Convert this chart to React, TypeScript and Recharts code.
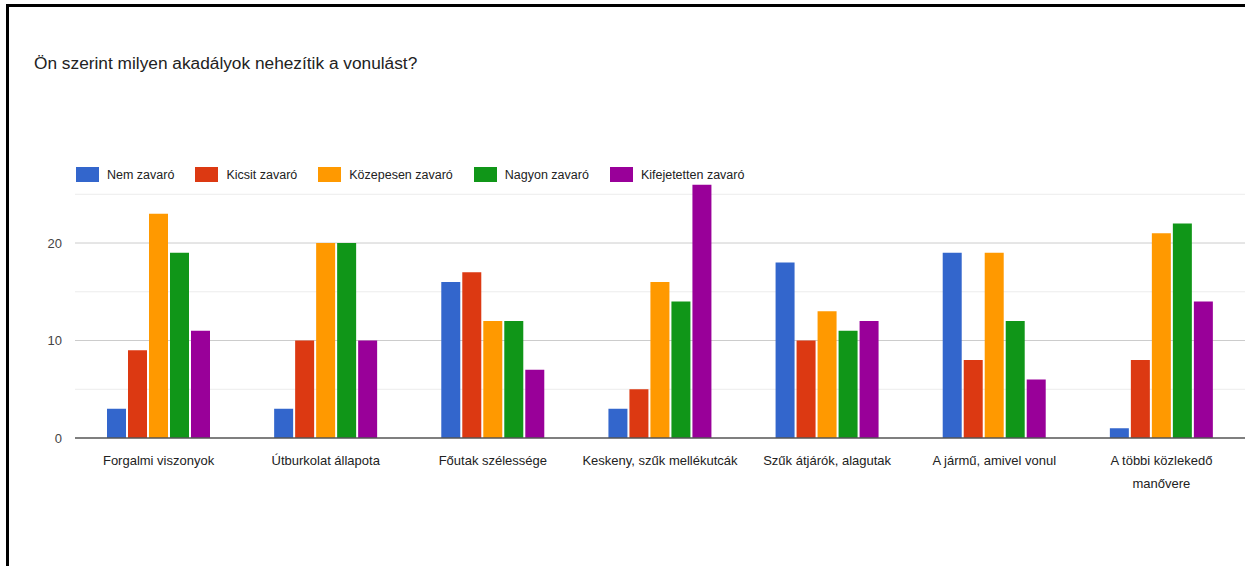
import React from "react"
import { BarChart, Bar, XAxis, YAxis, CartesianGrid, Legend } from "recharts"

// survey answers, one array per rating level
const categories = [
  "Forgalmi viszonyok",
  "Útburkolat állapota",
  "Főutak szélessége",
  "Keskeny, szűk mellékutcák",
  "Szűk átjárók, alagutak",
  "A jármű, amivel vonul",
  "A többi közlekedő manővere",
]
const nemZavaro = [3, 3, 16, 3, 18, 19, 1]
const kicsitZavaro = [9, 10, 17, 5, 10, 8, 8]
const kozepesenZavaro = [23, 20, 12, 16, 13, 19, 21]
const nagyonZavaro = [19, 20, 12, 14, 11, 12, 22]
const kifejezettenZavaro = [11, 10, 7, 26, 12, 6, 14]

const seriesNames = ["Nem zavaró", "Kicsit zavaró", "Közepesen zavaró", "Nagyon zavaró", "Kifejetetten zavaró"]
const seriesColors = ["#3366cc", "#dc3912", "#ff9900", "#109618", "#990099"]
const seriesValues = [nemZavaro, kicsitZavaro, kozepesenZavaro, nagyonZavaro, kifejezettenZavaro]

const yTicks = [0, 10, 20]
const majorGrid = [10, 20]
const minorGrid = [5, 15, 25]

const FONT = "'Liberation Sans', Arial, sans-serif"

const data = categories.map((name, i) => {
  const row: Record<string, string | number> = { name }
  seriesNames.forEach((s, j) => {
    row[s] = seriesValues[j][i]
  })
  return row
})

// word wrap with canvas measuring, like the original chart does for long labels
let ctx: CanvasRenderingContext2D | null = null
const wrapLabel = (label: string, maxWidth: number) => {
  if (!ctx) {
    ctx = document.createElement("canvas").getContext("2d")
    if (ctx) ctx.font = `13px ${FONT}`
  }
  if (!ctx) return [label]
  const words = label.split(" ")
  const lines: string[] = []
  let cur = ""
  words.forEach((w) => {
    const test = cur ? cur + " " + w : w
    if (cur && ctx!.measureText(test).width > maxWidth) {
      lines.push(cur)
      cur = w
    } else {
      cur = test
    }
  })
  if (cur) lines.push(cur)
  return lines
}

const CategoryTick = (props: any) => {
  const { x, y, payload } = props
  const lines = wrapLabel(String(payload.value), 160)
  return (
    <text x={x} y={y + 19} textAnchor="middle" fontSize={13} fontFamily={FONT} fill="#222">
      {lines.map((l, i) => (
        <tspan key={i} x={x} dy={i === 0 ? 0 : 23}>
          {l}
        </tspan>
      ))}
    </text>
  )
}

const LegendContent = () => (
  <div style={{ display: "flex", alignItems: "center", height: 15, fontFamily: FONT, fontSize: 12.5, color: "#222" }}>
    {seriesNames.map((s, i) => (
      <div key={s} style={{ display: "flex", alignItems: "center", marginRight: 21 }}>
        <span style={{ display: "inline-block", width: 23, height: 15, background: seriesColors[i], marginRight: 8 }} />
        <span>{s}</span>
      </div>
    ))}
  </div>
)

export default function App() {
  return (
    <div style={{ position: "relative", width: 1245, height: 566, overflow: "hidden", background: "#fff" }}>
      <style>{`body{margin:0;overflow:hidden}`}</style>
      <div
        style={{
          position: "absolute",
          left: 6,
          top: 4,
          width: 1239,
          height: 562,
          boxSizing: "border-box",
          borderTop: "3px solid #000",
          borderLeft: "3px solid #000",
        }}
      />
      <div
        style={{
          position: "absolute",
          left: 34,
          top: 53,
          fontFamily: FONT,
          fontSize: 17.3,
          color: "#222",
          whiteSpace: "nowrap",
        }}
      >
        Ön szerint milyen akadályok nehezítik a vonulást?
      </div>
      <div style={{ position: "absolute", left: 0, top: 0 }}>
        <BarChart
          width={1245}
          height={566}
          data={data}
          margin={{ top: 169.5, right: 0, bottom: 98, left: 0 }}
          barCategoryGap={32}
          barGap={2}
        >
          <CartesianGrid vertical={false} horizontalValues={minorGrid} stroke="#ececec" />
          <CartesianGrid vertical={false} horizontalValues={majorGrid} stroke="#cccccc" />
          <XAxis
            dataKey="name"
            height={30}
            tickLine={false}
            axisLine={{ stroke: "#555", strokeWidth: 1.5 }}
            tick={<CategoryTick />}
            interval={0}
          />
          <YAxis
            width={75}
            type="number"
            domain={[0, 26]}
            allowDataOverflow
            ticks={yTicks}
            axisLine={false}
            tickLine={false}
            tickSize={0}
            tickMargin={13}
            tick={{ fontSize: 13, fontFamily: FONT, fill: "#444" }}
          />
          <Legend
            verticalAlign="top"
            align="left"
            content={<LegendContent />}
            wrapperStyle={{ top: 167, left: 76, width: "auto" }}
          />
          {seriesNames.map((s, i) => (
            <Bar key={s} dataKey={s} fill={seriesColors[i]} isAnimationActive={false} />
          ))}
        </BarChart>
      </div>
    </div>
  )
}
